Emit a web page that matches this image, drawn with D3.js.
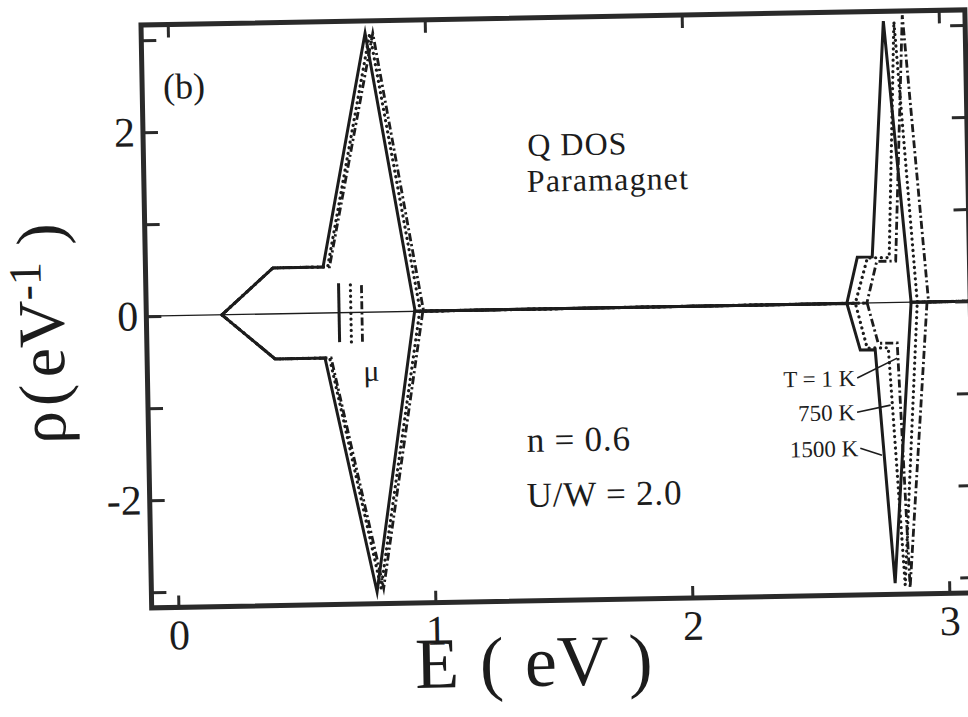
<!DOCTYPE html>
<html>
<head>
<meta charset="utf-8">
<script src="https://cdn.jsdelivr.net/npm/d3@7"></script>
<style>
  html, body { margin: 0; padding: 0; background: #fff; }
  svg, svg text { font-family: "Liberation Serif", "Times New Roman", Tinos, "DejaVu Serif", serif; }
</style>
</head>
<body>
<svg id="chart" width="968" height="717"></svg>
<script>
// Quasiparticle DOS of the paramagnetic state.
// Positive rho: spin-up half, negative rho: spin-down half. Points are [E (eV), rho (1/eV)].
const energyDomain = [-0.104, 3.102];
const rhoDomain = [-3.17, 3.165];
const xTickValues = [0, 1, 2, 3];
const yTickValues = [-3, -2, -1, 0, 1, 2, 3];
const yTickLabelled = [-2, 0, 2];

const dos1500Up = [[0.19, 0], [0.392, 0.5], [0.587, 0.5], [0.767, 3.03], [0.942, 0],
                   [2.622, 0], [2.666, 0.5], [2.724, 0.5], [2.784, 3.06], [2.872, 0], [3.102, 0]];
const dos1500Down = [[0.19, 0], [0.394, -0.49], [0.588, -0.49], [0.774, -3.04], [0.94, 0],
                     [2.622, 0], [2.671, -0.51], [2.729, -0.51], [2.79, -3.05], [2.872, 0], [3.102, 0]];

const dos750Up = [[0.19, 0], [0.392, 0.5], [0.605, 0.5], [0.785, 3.03], [0.962, 0],
                  [2.655, 0], [2.705, 0.49], [2.79, 0.49], [2.825, 3.05], [2.896, 0], [3.102, 0]];
const dos750Down = [[0.19, 0], [0.394, -0.49], [0.606, -0.49], [0.79, -3.0], [0.96, 0],
                    [2.655, 0], [2.698, -0.49], [2.78, -0.49], [2.829, -3.07], [2.896, 0], [3.102, 0]];

const dos1Up = [[0.19, 0], [0.392, 0.5], [0.612, 0.5], [0.797, 3.03], [0.975, 0],
                [2.70, 0], [2.741, 0.45], [2.815, 0.45], [2.858, 3.12], [2.94, 0], [3.102, 0]];
const dos1Down = [[0.19, 0], [0.394, -0.49], [0.612, -0.49], [0.8, -3.0], [0.972, 0],
                  [2.701, 0], [2.741, -0.44], [2.815, -0.44], [2.848, -3.1], [2.934, 0], [3.102, 0]];

// chemical potential for 1500 K, 750 K, 1 K and the span of its marker
const muEnergies = [0.646, 0.692, 0.735];
const muSpan = [-0.32, 0.32];

// temperature labels with their leader lines (label end -> curve)
const tempLabels = ["T = 1 K", "750 K", "1500 K"];
const leaderFrom = [[2.657, -0.813], [2.654, -1.184], [2.664, -1.576]];
const leaderTo = [[2.814, -0.605], [2.785, -1.114], [2.748, -1.656]];

// ---- layout ----
const frameX = 141, frameY = 25, W = 824, H = 583;
const ink = "#1c1c1c", frameInk = "#2a2a2a";
const serif = "'Liberation Serif', 'Times New Roman', Tinos, 'DejaVu Serif', serif";

const svg = d3.select("#chart");
// the whole figure sits slightly tilted on the page
const page = svg.append("g").attr("transform", `rotate(-1.05 ${frameX} ${frameY})`);
const plot = page.append("g").attr("transform", `translate(${frameX},${frameY})`);

const x = d3.scaleLinear().domain(energyDomain).range([0, W]);
const y = d3.scaleLinear().domain(rhoDomain).range([H, 0]);

// zero reference line
plot.append("line")
  .attr("x1", x(energyDomain[0])).attr("x2", x(energyDomain[1]))
  .attr("y1", y(0)).attr("y2", y(0))
  .attr("stroke", ink).attr("stroke-width", 1.3);

const line = d3.line().x(d => x(d[0])).y(d => y(d[1]));

const styles = {
  dashdot: { width: 2.8, dash: "8 3 2.2 3", cap: "butt" },
  dotted: { width: 3.2, dash: "0.1 5.6", cap: "round" },
  solid: { width: 3, dash: null, cap: "butt" }
};
const seriesList = [
  { style: "dashdot", halves: [dos1Up, dos1Down], mu: muEnergies[2] },
  { style: "dotted", halves: [dos750Up, dos750Down], mu: muEnergies[1] },
  { style: "solid", halves: [dos1500Up, dos1500Down], mu: muEnergies[0] }
];

seriesList.forEach(s => {
  const st = styles[s.style];
  s.halves.forEach(h => {
    plot.append("path")
      .attr("d", line(h))
      .attr("fill", "none")
      .attr("stroke", ink)
      .attr("stroke-width", st.width)
      .attr("stroke-dasharray", st.dash)
      .attr("stroke-linecap", st.cap)
      .attr("stroke-linejoin", "miter")
      .attr("stroke-miterlimit", 8);
  });
  plot.append("line")
    .attr("x1", x(s.mu)).attr("x2", x(s.mu))
    .attr("y1", y(muSpan[0])).attr("y2", y(muSpan[1]))
    .attr("stroke", ink)
    .attr("stroke-width", st.width)
    .attr("stroke-dasharray", st.dash)
    .attr("stroke-linecap", st.cap);
});

// temperature labels
tempLabels.forEach((t, i) => {
  plot.append("line")
    .attr("x1", x(leaderFrom[i][0])).attr("y1", y(leaderFrom[i][1]))
    .attr("x2", x(leaderTo[i][0])).attr("y2", y(leaderTo[i][1]))
    .attr("stroke", ink).attr("stroke-width", 1.6);
  plot.append("text")
    .attr("x", x(leaderFrom[i][0]) - 2)
    .attr("y", y(leaderFrom[i][1]) + 8)
    .attr("text-anchor", "end")
    .attr("fill", ink)
    .style("font-family", serif)
    .style("font-size", "23px")
    .text(t);
});

// axes with inward ticks on all four sides
function styleAxis(sel) {
  sel.attr("font-family", null);
  sel.select(".domain").remove();
  sel.selectAll(".tick line").attr("stroke", frameInk).attr("stroke-width", 3);
  sel.selectAll("text").attr("fill", ink)
    .style("font-family", serif).style("font-size", "42px");
}
plot.append("g").attr("transform", `translate(0,${H})`)
  .call(d3.axisBottom(x).tickValues(xTickValues).tickSize(-12).tickPadding(12).tickFormat(d => String(d)))
  .call(styleAxis);
plot.append("g")
  .call(d3.axisTop(x).tickValues(xTickValues).tickSize(-13).tickFormat(""))
  .call(styleAxis);
plot.append("g")
  .call(d3.axisLeft(y).tickValues(yTickValues).tickSize(-15).tickPadding(8)
    .tickFormat(d => yTickLabelled.includes(d) ? String(d) : ""))
  .call(styleAxis);
plot.append("g").attr("transform", `translate(${W},0)`)
  .call(d3.axisRight(y).tickValues(yTickValues).tickSize(-15).tickFormat(""))
  .call(styleAxis);

// frame
plot.append("rect")
  .attr("x", 0).attr("y", 0).attr("width", W).attr("height", H)
  .attr("fill", "none").attr("stroke", frameInk).attr("stroke-width", 5);

// annotations
function note(txt, px, py, size, anchor, spacing) {
  page.append("text").attr("x", px).attr("y", py)
    .attr("text-anchor", anchor || "start")
    .attr("fill", ink)
    .style("font-family", serif)
    .style("letter-spacing", (spacing || 0) + "px")
    .style("font-size", size + "px").text(txt);
}
note("(b)", 162, 99, 36);
note("Q DOS", 525, 163, 32, "start", 1);
note("Paramagnet", 524, 199, 32, "start", 1.1);
note("n = 0.6", 519, 459, 35, "start", 0.8);
note("U/W = 2.0", 518, 514, 35, "start", 0.8);
note("\u03bc", 365, 385, 30, "middle");

// axis titles
page.append("text")
  .attr("x", 522).attr("y", 693)
  .attr("text-anchor", "middle")
  .attr("fill", ink)
  .style("font-family", serif)
  .style("font-size", "72px")
  .style("word-spacing", "3px")
  .text("E ( eV )");

const yTitle = page.append("text")
  .attr("transform", "translate(58,332) rotate(-90)")
  .attr("text-anchor", "middle")
  .attr("fill", ink)
  .style("font-family", serif)
  .style("font-size", "66px");
yTitle.append("tspan").text("\u03c1");
yTitle.append("tspan").attr("dx", 5).text("(");
yTitle.append("tspan").attr("dx", 7).text("eV");
yTitle.append("tspan").attr("dy", -22).style("font-size", "46px").text("-1");
yTitle.append("tspan").attr("dy", 22).text(" )");
</script>
</body>
</html>
